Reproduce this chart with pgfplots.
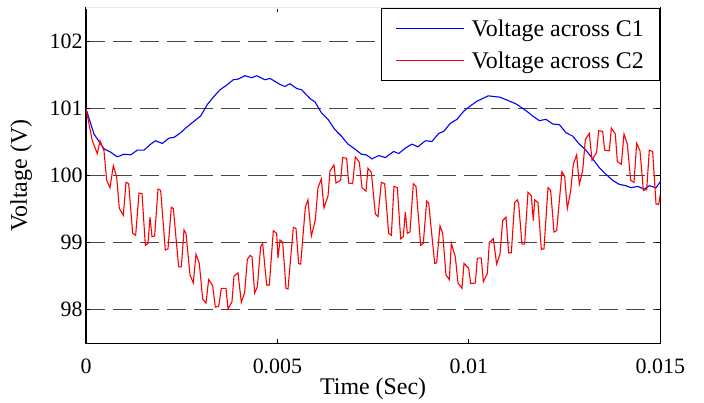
\documentclass[border=0pt]{standalone}
\usepackage{fontspec}
\setmainfont{Liberation Serif}
\usepackage{pgfplots}
\usepackage{pgfplotstable}
\pgfplotsset{compat=1.18}

\pgfplotstableread{
t v
0 101.0
0.000209 100.62
0.000470 100.40
0.000644 100.35
0.000818 100.28
0.000992 100.32
0.001167 100.31
0.001341 100.38
0.001515 100.38
0.001689 100.47
0.001820 100.52
0.001994 100.48
0.002168 100.56
0.002298 100.57
0.002473 100.64
0.002603 100.71
0.002821 100.81
0.002995 100.89
0.003169 101.06
0.003325 101.17
0.003500 101.28
0.003675 101.35
0.003847 101.43
0.003978 101.44
0.004153 101.49
0.004327 101.46
0.004458 101.49
0.004675 101.43
0.004806 101.45
0.005067 101.36
0.005198 101.33
0.005328 101.37
0.005503 101.30
0.005634 101.28
0.005850 101.15
0.005981 101.10
0.006146 100.94
0.006321 100.84
0.006495 100.69
0.006669 100.59
0.006843 100.47
0.007017 100.40
0.007191 100.32
0.007322 100.31
0.007470 100.25
0.007644 100.30
0.007818 100.27
0.008036 100.36
0.008166 100.33
0.008340 100.41
0.008514 100.47
0.008671 100.43
0.008863 100.52
0.009037 100.51
0.009211 100.63
0.009342 100.66
0.009516 100.78
0.009690 100.84
0.009864 100.96
0.010038 101.04
0.010212 101.11
0.010507 101.19
0.010813 101.17
0.011231 101.07
0.011492 100.97
0.011666 100.89
0.011840 100.82
0.012014 100.84
0.012188 100.77
0.012363 100.76
0.012537 100.64
0.012711 100.59
0.012885 100.47
0.013059 100.38
0.013233 100.25
0.013407 100.12
0.013581 100.02
0.013755 99.93
0.013929 99.87
0.014104 99.85
0.014234 99.82
0.014409 99.84
0.014583 99.80
0.014713 99.85
0.014888 99.82
0.015 99.91
}\cone

\pgfplotstableread{
t v
0 101.0
0.000165 100.52
0.000296 100.33
0.000366 100.52
0.000470 100.37
0.000540 99.93
0.000627 99.82
0.000714 100.15
0.000801 99.98
0.000871 99.51
0.000975 99.41
0.001045 99.90
0.001114 99.88
0.001219 99.14
0.001297 99.11
0.001384 99.74
0.001463 99.73
0.001550 98.96
0.001619 98.99
0.001672 99.38
0.001724 99.09
0.001793 99.10
0.001881 99.80
0.001950 99.78
0.002072 98.89
0.002142 98.91
0.002229 99.53
0.002281 99.51
0.002420 98.64
0.002490 98.64
0.002560 99.19
0.002612 99.14
0.002716 98.52
0.002803 98.40
0.002873 98.83
0.002960 98.69
0.003047 98.16
0.003134 98.10
0.003204 98.45
0.003308 98.36
0.003378 98.04
0.003465 98.05
0.003535 98.32
0.003657 98.32
0.003709 98.01
0.003813 98.12
0.003865 98.50
0.003970 98.55
0.004057 98.11
0.004144 98.26
0.004214 98.75
0.004283 98.81
0.004336 98.79
0.004405 98.25
0.004475 98.34
0.004562 98.94
0.004614 98.99
0.004719 98.37
0.004788 98.37
0.004893 99.18
0.004980 99.14
0.005015 98.77
0.005067 99.04
0.005137 99.01
0.005224 98.32
0.005276 98.31
0.005415 99.23
0.005485 99.21
0.005554 98.69
0.005607 98.68
0.005729 99.53
0.005798 99.64
0.005885 99.10
0.005990 99.34
0.006059 99.82
0.006146 99.95
0.006216 99.52
0.006321 99.70
0.006373 100.07
0.006477 100.16
0.006530 99.89
0.006651 99.93
0.006704 100.27
0.006808 100.26
0.006860 99.89
0.006965 99.88
0.007034 100.28
0.007139 100.20
0.007209 99.82
0.007313 99.77
0.007365 100.11
0.007452 100.05
0.007557 99.43
0.007626 99.39
0.007713 99.90
0.007801 99.88
0.007905 99.14
0.007975 99.11
0.008044 99.84
0.008131 99.82
0.008219 99.06
0.008288 99.09
0.008340 99.46
0.008393 99.14
0.008462 99.16
0.008549 99.88
0.008619 99.84
0.008741 98.96
0.008810 98.99
0.008898 99.62
0.008950 99.59
0.009107 98.69
0.009159 98.70
0.009246 99.25
0.009316 99.14
0.009402 98.52
0.009490 98.45
0.009542 98.99
0.009646 98.79
0.009716 98.40
0.009820 98.32
0.009873 98.69
0.009995 98.62
0.010047 98.39
0.010169 98.40
0.010221 98.77
0.010325 98.77
0.010378 98.42
0.010482 98.54
0.010534 99.00
0.010639 99.06
0.010726 98.68
0.010813 98.83
0.010883 99.33
0.010970 99.38
0.011039 98.85
0.011109 98.85
0.011196 99.60
0.011266 99.64
0.011301 99.58
0.011387 98.98
0.011457 98.98
0.011544 99.75
0.011631 99.70
0.011684 99.33
0.011718 99.64
0.011805 99.60
0.011893 98.90
0.011962 98.91
0.012067 99.82
0.012136 99.78
0.012223 99.16
0.012293 99.18
0.012432 100.06
0.012502 99.99
0.012571 99.51
0.012658 99.77
0.012728 100.17
0.012815 100.31
0.012885 99.87
0.012972 100.07
0.013042 100.54
0.013146 100.63
0.013216 100.23
0.013338 100.35
0.013390 100.67
0.013495 100.66
0.013547 100.38
0.013669 100.37
0.013721 100.71
0.013825 100.62
0.013878 100.21
0.013982 100.17
0.014052 100.62
0.014139 100.47
0.014226 99.93
0.014313 99.90
0.014383 100.48
0.014470 100.37
0.014557 99.78
0.014644 99.79
0.014713 100.38
0.014800 100.36
0.014888 99.58
0.014957 99.57
0.015 99.72
}\ctwo

\newcommand{\bigfont}{\fontsize{22}{26}\selectfont}
\newcommand{\lblfont}{\fontsize{24}{28}\selectfont}

\begin{document}
\begin{tikzpicture}
\useasboundingbox (-86bp,-59.7bp) rectangle (618bp,343.3bp);
\begin{axis}[
  scale only axis,
  width=574.3bp, height=335.3bp,
  at={(0,0)}, anchor=south west,
  xmin=0, xmax=0.015, ymin=97.5, ymax=102.5,
  xtick={0,0.005,0.01,0.015},
  xticklabels={0,0.005,0.01,0.015},
  scaled x ticks=false,
  ytick={98,99,100,101,102},
  tick align=inside,
  major tick length=4.5bp,
  every tick/.style={black, line width=0.9bp},
  axis line style={black, line width=1.1bp},
  /pgf/number format/assume math mode=true,
  tick label style={font=\bigfont, black},
  xticklabel style={yshift=-12bp},
  yticklabel style={xshift=0bp},
  ymajorgrids,
  major grid style={black!72, line width=1.1bp, dash pattern=on 19bp off 8bp},
  xlabel={Time (Sec)},
  ylabel={Voltage (V)},
  label style={font=\lblfont},
  xlabel style={at={(axis description cs:0.5,-0.136)}, anchor=center},
  ylabel style={at={(axis description cs:-0.113,0.5)}, anchor=center, rotate=0},
  legend cell align=left,
  legend style={at={(1,1)}, anchor=north east, font=\lblfont,
    draw=black, line width=0.9bp, inner xsep=14bp, inner ysep=6.5bp,
    row sep=5bp,
    nodes={inner sep=2bp, text height=19.5bp, text depth=3.5bp}},
]
\addplot[blue, line width=1.1bp,
  legend image code/.code={\draw[draw=blue, line width=1.1bp] (0bp,0bp) -- (68bp,0bp); \path (73bp,0bp);}]
  table[x=t, y=v] {\cone};
\addlegendentry{Voltage across C1}
\addplot[red, line width=1.1bp,
  legend image code/.code={\draw[draw=red, line width=1.1bp] (0bp,0bp) -- (68bp,0bp); \path (73bp,0bp);}]
  table[x=t, y=v] {\ctwo};
\addlegendentry{Voltage across C2}
\draw[white, line width=1.5bp] (rel axis cs:0,1) -- (rel axis cs:1,1);
\draw[black!8, line width=1bp] (rel axis cs:0,1) -- (rel axis cs:1,1);
\end{axis}
\end{tikzpicture}
\end{document}
